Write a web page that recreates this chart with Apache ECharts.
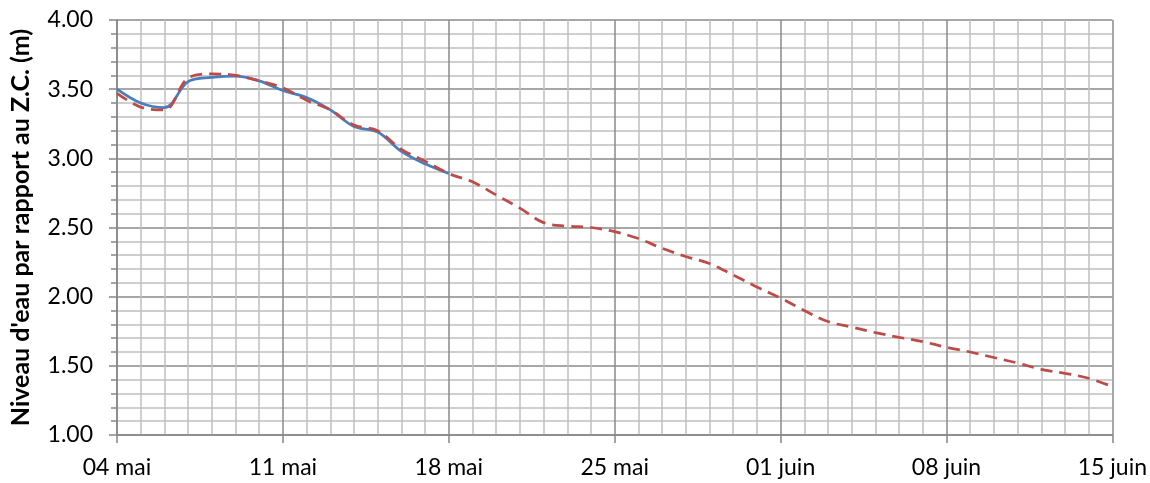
<!DOCTYPE html>
<html>
<head>
<meta charset="utf-8">
<script src="https://cdn.jsdelivr.net/npm/echarts@6/dist/echarts.min.js"></script>
<style>
html,body{margin:0;padding:0;background:#fff;}
#chart{width:1150px;height:483px;}
</style>
</head>
<body>
<div id="chart"></div>
<script>
// Day offsets from 04 mai (0) to 15 juin (42)
const tickLabels = ["04 mai", "11 mai", "18 mai", "25 mai", "01 juin", "08 juin", "15 juin"];
const yTicks = ["1.00", "1.50", "2.00", "2.50", "3.00", "3.50", "4.00"];

// Observed water level (solid blue), days 0..14
const observed = [3.50, 3.40, 3.366, 3.555, 3.585, 3.595, 3.56, 3.49, 3.44, 3.35, 3.23, 3.19, 3.05, 2.96, 2.89];

// Predicted water level (dashed red), days 0..42
const predicted = [3.47, 3.37, 3.35, 3.58, 3.61, 3.60, 3.56, 3.51, 3.42, 3.35, 3.24, 3.20, 3.065, 2.98, 2.89,
  2.83, 2.735, 2.64, 2.535, 2.51, 2.50, 2.47, 2.42, 2.35, 2.29, 2.24, 2.157, 2.07, 1.99,
  1.90, 1.82, 1.78, 1.74, 1.706, 1.675, 1.634, 1.60, 1.56, 1.52, 1.475, 1.446, 1.41, 1.35];

const FONT = 'Lato';
const chart = echarts.init(document.getElementById('chart'), null, {renderer: 'canvas'});
chart.setOption({
  animation: false,
  backgroundColor: '#ffffff',
  grid: {left: 117, right: 36, top: 20, bottom: 48},
  xAxis: {
    type: 'value', min: 0, max: 42, interval: 7,
    axisLine: {show: true, lineStyle: {color: '#868686', width: 1.5}},
    axisTick: {show: true, length: 8, lineStyle: {color: '#868686', width: 1.5}},
    minorTick: {show: false, splitNumber: 7},
    splitLine: {show: true, lineStyle: {color: '#8a8a8a', width: 1.5}},
    minorSplitLine: {show: true, lineStyle: {color: '#c0c0c0', width: 1.5}},
    axisLabel: {
      margin: 21, color: '#000', fontFamily: FONT, fontSize: 23,
      formatter: v => tickLabels[Math.round(v / 7)] || ''
    }
  },
  yAxis: {
    type: 'value', min: 1, max: 4, interval: 0.5,
    name: "Niveau d'eau par rapport au Z.C. (m)",
    nameLocation: 'middle', nameGap: 84,
    nameTextStyle: {fontFamily: FONT, fontSize: 25, fontWeight: 'bold', color: '#000'},
    axisLine: {show: true, lineStyle: {color: '#868686', width: 1.5}},
    axisTick: {show: true, length: 8, lineStyle: {color: '#868686', width: 1.5}},
    minorTick: {show: true, splitNumber: 5, length: 6, lineStyle: {color: '#868686', width: 1.5}},
    splitLine: {show: true, lineStyle: {color: '#8a8a8a', width: 1.5}},
    minorSplitLine: {show: true, lineStyle: {color: '#c0c0c0', width: 1.5}},
    axisLabel: {
      margin: 24, color: '#000', fontFamily: FONT, fontSize: 23,
      formatter: v => yTicks[Math.round((v - 1) / 0.5)] || ''
    }
  },
  series: [
    {
      type: 'line', name: 'Observé',
      data: observed.map((v, i) => [i, v]),
      smooth: 0.35, showSymbol: false, symbol: 'none',
      lineStyle: {color: '#4a7ebb', width: 2.75},
      z: 3
    },
    {
      type: 'line', name: 'Prévu',
      data: predicted.map((v, i) => [i, v]),
      smooth: 0.35, showSymbol: false, symbol: 'none',
      lineStyle: {color: '#be4b48', width: 2.75, type: [12, 7]},
      z: 4
    }
  ]
});
</script>
</body>
</html>
